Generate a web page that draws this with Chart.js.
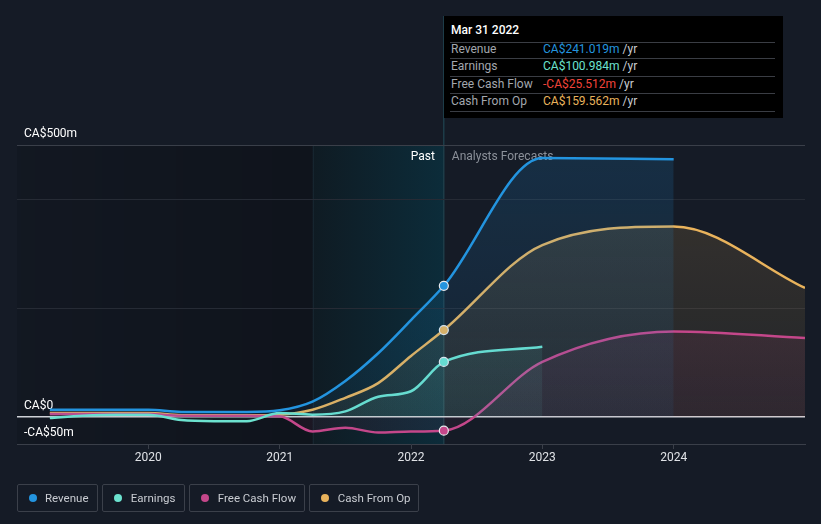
<!DOCTYPE html>
<html>
<head>
<meta charset="utf-8">
<script src="https://cdn.jsdelivr.net/npm/chart.js@4.4.1/dist/chart.umd.min.js"></script>
<style>
  html,body{margin:0;padding:0;background:#151b26;}
  #wrap{position:relative;width:821px;height:524px;overflow:hidden;font-family:Roboto,"Noto Sans",sans-serif;}
  #c{position:absolute;left:0;top:0;}
  #tip{position:absolute;left:444px;top:16px;width:339px;height:102px;background:#000;}
  #tip .title{position:absolute;left:7px;top:7px;color:#fff;font-size:12px;font-weight:500;}
  #tip .sep{position:absolute;left:6px;width:325px;height:1px;background:#3a3d44;}
  #tip .row{position:absolute;left:7px;font-size:12px;line-height:14px;}
  #tip .lab{position:absolute;left:0;color:#a3a7ae;white-space:nowrap;}
  #tip .val{position:absolute;left:92px;white-space:nowrap;}
  #tip .yr{color:#c9ccd1;}
  #legend{position:absolute;left:16.5px;top:484px;}
  #legend .item{position:absolute;top:0;box-sizing:border-box;height:27.5px;border:1px solid #3b404a;border-radius:2px;display:flex;align-items:center;padding:0 0 0 11px;color:#c9ccd2;font-size:11.5px;white-space:nowrap;overflow:hidden;}
  #legend .dot{width:8px;height:8px;border-radius:50%;margin-right:8.5px;flex:none;}
</style>
</head>
<body>
<div id="wrap">
  <canvas id="c" width="821" height="524" style="width:821px;height:524px"></canvas>
  <div id="tip"></div>
  <div id="legend"></div>
</div>
<script>
// ---------------- data ----------------
const seriesNames = ['Revenue', 'Earnings', 'Free Cash Flow', 'Cash From Op'];
const pastDates = [2019.25, 2019.5, 2019.75, 2020.0, 2020.25, 2020.5, 2020.75, 2021.0, 2021.25, 2021.5, 2021.75, 2022.0, 2022.25];
const revenuePast  = [13, 13, 13, 13, 9, 9, 9, 12, 28, 66, 117, 178, 241.019];
const earningsPast = [-2, 2, 4, 4, -6, -8, -8, 7, 4, 10, 37, 47, 100.984];
const fcfPast      = [5, 5, 5, 5, 2, 2, 2, 1, -27, -20, -29, -27, -25.512];
const cfoPast      = [7, 7, 7, 7, 3, 3, 3, 4, 13, 35, 62, 112, 159.562];
const forecastDates = [2023.0, 2024.0, 2025.0];
const revenueForecast  = [476, 474];
const earningsForecast = [129];
const fcfForecast      = [101, 157, 145];
const cfoForecast      = [316, 350, 237];
const xTickYears = [2020, 2021, 2022, 2023, 2024];
const yTickValues = [-50, 0, 200, 400, 500];
const yTickLabels = {'-50': '-CA$50m', '0': 'CA$0', '500': 'CA$500m'};
const highlightStart = 2021.25;
const selectedDate = 2022.25;
const tooltipTitle = 'Mar 31 2022';
const phaseLabels = ['Past', 'Analysts Forecasts'];

// ---------------- style ----------------
const colors = ['#2394df', '#6ce2cf', '#c4478a', '#e9b35c'];
const valueColors = ['#2394df', '#6ce2cf', '#f0443a', '#e9b35c'];
const legendLefts = [0, 85.8, 172.8, 292.8];
const legendWidths = [81, 82.4, 115.4, 110];

function rgba(hex, a){
  const n = parseInt(hex.slice(1), 16);
  return `rgba(${(n>>16)&255},${(n>>8)&255},${n&255},${a})`;
}
function toPoints(past, fc){
  return pastDates.map((d,i)=>({x:d, y:past[i]})).concat(fc.map((v,i)=>({x:forecastDates[i], y:v})));
}
function fillGrad(color){
  return (ctx) => {
    const chart = ctx.chart, a = chart.chartArea;
    if (!a) return rgba(color, 0.1);
    const g = chart.ctx.createLinearGradient(0, a.top, 0, a.bottom);
    g.addColorStop(0, rgba(color, 0.17));
    g.addColorStop(1, rgba(color, 0.06));
    return g;
  };
}
const seriesData = [
  toPoints(revenuePast, revenueForecast),
  toPoints(earningsPast, earningsForecast),
  toPoints(fcfPast, fcfForecast),
  toPoints(cfoPast, cfoForecast)
];
const datasets = seriesData.map((data, i) => ({
  label: seriesNames[i],
  data,
  borderColor: colors[i],
  backgroundColor: fillGrad(colors[i]),
  fill: 'origin',
  borderWidth: 2.5,
  cubicInterpolationMode: 'monotone',
  pointRadius: (c) => (c.raw && c.raw.x === selectedDate) ? 4.5 : 0,
  pointHoverRadius: 0,
  pointBackgroundColor: colors[i],
  pointBorderColor: '#e8eaee',
  pointBorderWidth: 1.2
}));

const bgPlugin = {
  id: 'bgShade',
  beforeDraw(chart){
    const {ctx, chartArea: a, scales: {x}} = chart;
    const xh = x.getPixelForValue(highlightStart);
    const xs = x.getPixelForValue(selectedDate);
    ctx.save();
    let g = ctx.createLinearGradient(a.left, 0, xh, 0);
    g.addColorStop(0, 'rgba(0,0,0,0.10)');
    g.addColorStop(1, 'rgba(0,0,0,0.26)');
    ctx.fillStyle = g;
    ctx.fillRect(a.left, a.top, xh - a.left, a.bottom - a.top);
    g = ctx.createLinearGradient(xh, 0, xs, 0);
    g.addColorStop(0, '#0f1b23');
    g.addColorStop(1, '#0c2c3a');
    ctx.fillStyle = g;
    ctx.fillRect(xh, a.top, xs - xh, a.bottom - a.top);
    ctx.fillStyle = 'rgba(120,170,190,0.08)';
    ctx.fillRect(Math.round(xh), a.top, 1, a.bottom - a.top);
    ctx.fillStyle = '#1d3c48';
    ctx.fillRect(Math.round(xs) - 1, 16, 1.5, a.bottom - 16);
    ctx.restore();
  },
  beforeDatasetsDraw(chart){
    const {ctx, chartArea: a, scales: {x}} = chart;
    const xs = x.getPixelForValue(selectedDate);
    ctx.save();
    ctx.font = '12px Roboto';
    ctx.textBaseline = 'middle';
    ctx.textAlign = 'right';
    ctx.fillStyle = '#ffffff';
    ctx.fillText(phaseLabels[0], xs - 9, a.top + 12);
    ctx.textAlign = 'left';
    ctx.fillStyle = '#8b9099';
    ctx.fillText(phaseLabels[1], xs + 8, a.top + 12);
    ctx.restore();
  }
};

Chart.defaults.font.family = 'Roboto';
Chart.defaults.font.size = 12;

new Chart(document.getElementById('c'), {
  type: 'line',
  data: { datasets },
  options: {
    responsive: false,
    animation: false,
    events: [],
    layout: { padding: { left: 17, right: 16, top: 145, bottom: 0 } },
    plugins: { legend: { display: false }, tooltip: { enabled: false } },
    scales: {
      x: {
        type: 'linear',
        min: 2019.0,
        max: 2025.0,
        afterBuildTicks: (s) => { s.ticks = xTickYears.map(v => ({value: v})); },
        afterFit: (s) => { s.height = 80; },
        ticks: { color: '#dfe2e6', padding: 2, font: { size: 12 }, callback: (v) => String(v), maxRotation: 0 },
        grid: { drawOnChartArea: false, tickLength: 5, color: '#3a3f49' },
        border: { color: '#3a3f49', width: 1 }
      },
      y: {
        type: 'linear',
        min: -50,
        max: 500,
        afterBuildTicks: (s) => { s.ticks = yTickValues.map(v => ({value: v})); },
        afterFit: (s) => { s.width = 0; },
        ticks: {
          mirror: true, padding: 7, labelOffset: -11, color: '#ffffff', font: { size: 12 },
          callback: (v) => yTickLabels[String(v)] || ''
        },
        grid: {
          drawTicks: false,
          color: (c) => {
            const v = c.tick && c.tick.value;
            if (v === 0) return '#cfd2d7';
            if (v === 500) return '#3a3f49';
            if (v === -50) return 'rgba(0,0,0,0)';
            return '#262b35';
          },
          lineWidth: (c) => (c.tick && c.tick.value === 0) ? 1.5 : 1
        },
        border: { display: false }
      }
    }
  },
  plugins: [bgPlugin]
});

// ---------------- tooltip box (HTML text) ----------------
const tip = document.getElementById('tip');
const lastValues = [revenuePast, earningsPast, fcfPast, cfoPast].map(a => a[a.length - 1]);
function fmt(v){ return (v < 0 ? '-' : '') + 'CA$' + Math.abs(v).toFixed(3) + 'm'; }
let html = `<div class="title">${tooltipTitle}</div>`;
const sepTops = [25.7, 42.3, 60, 77.3, 95];
sepTops.forEach(t => { html += `<div class="sep" style="top:${t}px"></div>`; });
const rowCenters = [33.3, 50.2, 68, 85.2];
seriesNames.forEach((n, i) => {
  html += `<div class="row" style="top:${rowCenters[i] - 7}px"><span class="lab">${n}</span>` +
          `<span class="val"><span style="color:${valueColors[i]}">${fmt(lastValues[i])}</span> <span class="yr">/yr</span></span></div>`;
});
tip.innerHTML = html;

// ---------------- legend (HTML text) ----------------
const legend = document.getElementById('legend');
legend.innerHTML = seriesNames.map((n, i) =>
  `<div class="item" style="left:${legendLefts[i]}px;width:${legendWidths[i]}px"><span class="dot" style="background:${colors[i]}"></span>${n}</div>`).join('');
</script>
</body>
</html>
